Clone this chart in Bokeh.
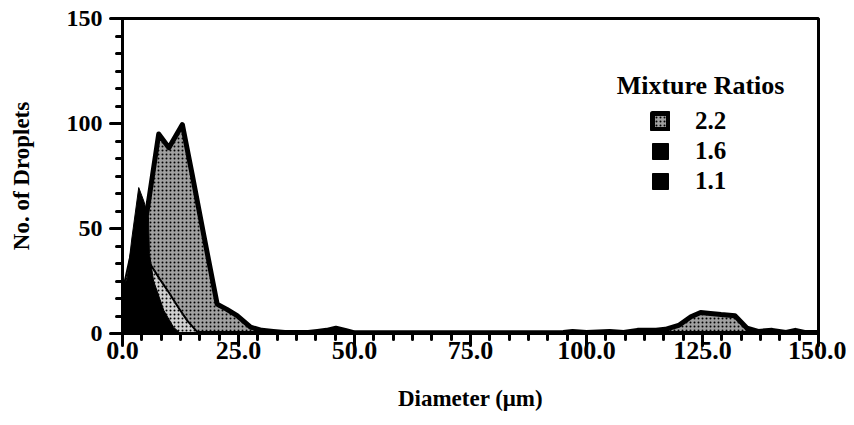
from bokeh.plotting import figure
from bokeh.models import (Range1d, SingleIntervalTicker, PrintfTickFormatter,
                          Legend, LegendItem, Label)
from bokeh.embed import file_html
from bokeh.resources import INLINE

# ---- data ----
# Mixture ratio 2.2 (stippled)
x_22 = [0, 2, 4, 5.7, 7.8, 10, 12.9, 15, 17.5, 20.4, 22.5, 24.7, 27.6, 30, 32.5,
        35, 40, 42, 44, 46, 48, 50, 55, 60, 70, 80, 90, 95, 97, 100, 105, 108,
        111, 115, 117, 120, 122.5, 124.6, 126.7, 129, 132, 134.6, 137, 140, 143,
        145, 147, 150]
y_22 = [3, 15, 40, 64, 95, 88.5, 99.5, 76, 47, 14, 11.5, 8.5, 3, 1.5, 1,
        0.5, 0.5, 1, 1.5, 2.5, 1.5, 0.3, 0.3, 0.3, 0.3, 0.3, 0.3, 0.5, 1, 0.5, 1, 0.5,
        1.5, 1.5, 2, 4, 8, 10, 9.5, 9, 8.5, 2.5, 1, 1.5, 0.5, 1.5, 0.5, 0.5]

# Mixture ratio 1.6
x_16 = [0, 2, 4, 6, 8, 10, 12, 14, 16]
y_16 = [20, 40, 48, 33, 26, 19.5, 12.5, 6, 1]

# Mixture ratio 1.1 (black)
x_11 = [0, 1, 2, 3.5, 4.6, 5.6, 5.8, 6.7, 8.9, 11, 12.5]
y_11 = [22, 26, 45, 69.5, 63, 55, 38, 25, 11, 3, 0]

x_ticks_step = 25
y_ticks_step = 50
legend_labels = ["2.2", "1.6", "1.1"]

SERIF = "Liberation Serif"


def closed(xs, ys):
    return list(xs) + list(xs)[::-1], list(ys) + [0] * len(xs)


p = figure(width=846, height=417, output_backend="svg", toolbar_location=None,
           x_range=Range1d(0, 150), y_range=Range1d(0, 150),
           min_border_left=122, min_border_right=28, min_border_top=18,
           min_border_bottom=84)
p.grid.visible = False
p.outline_line_color = "black"
p.outline_line_width = 3
p.background_fill_color = "white"

px, py = closed(x_22, y_22)
r22 = p.patch(px, py, fill_color="#a0a0a0", hatch_pattern="dot", hatch_color="black",
              hatch_scale=4, hatch_weight=2, line_color="black", line_width=5,
              line_join="round")
px, py = closed(x_16, y_16)
r16 = p.patch(px, py, fill_color="#d0d0d0", hatch_pattern="dot", hatch_color="black",
              hatch_scale=4, hatch_weight=1.6, line_color="black", line_width=2,
              line_join="round")
px, py = closed(x_11, y_11)
r11 = p.patch(px, py, fill_color="black", line_color="black", line_width=1)

for ax, step in ((p.xaxis[0], x_ticks_step), (p.yaxis[0], y_ticks_step)):
    ax.ticker = SingleIntervalTicker(interval=step, num_minor_ticks=6)
    ax.axis_line_width = 3
    ax.major_tick_line_width = 3
    ax.minor_tick_line_width = 3
    ax.major_tick_line_cap = "round"
    ax.minor_tick_line_cap = "round"
    ax.major_tick_in = 0
    ax.minor_tick_in = 0
    ax.major_tick_out = 12
    ax.minor_tick_out = 6
    ax.major_label_text_font = SERIF
    ax.major_label_text_font_style = "bold"
    ax.major_label_text_color = "black"
    ax.axis_label_text_font = SERIF
    ax.axis_label_text_font_style = "bold"
    ax.axis_label_text_font_size = "23px"
    ax.axis_label_text_color = "black"

p.xaxis[0].formatter = PrintfTickFormatter(format="%.1f")
p.xaxis[0].major_label_text_font_size = "26px"
p.xaxis[0].major_label_standoff = -4
p.xaxis[0].axis_label = "Diameter (\u03bcm)"
p.xaxis[0].axis_label_standoff = 24
p.yaxis[0].major_label_text_font_size = "24px"
p.yaxis[0].major_label_standoff = 8
p.yaxis[0].axis_label = "No. of Droplets"
p.yaxis[0].axis_label_standoff = 30

legend = Legend(items=[LegendItem(label=legend_labels[0], renderers=[r22]),
                       LegendItem(label=legend_labels[1], renderers=[r11]),
                       LegendItem(label=legend_labels[2], renderers=[r11])],
                location=(528, 138), glyph_width=20, glyph_height=20,
                label_height=20, spacing=2, padding=0, margin=0,
                border_line_color=None, background_fill_alpha=0,
                label_standoff=25, label_text_font=SERIF,
                label_text_font_style="bold", label_text_font_size="25px",
                label_text_color="black")
p.add_layout(legend)

p.add_layout(Label(x=106.5, y=118, text="Mixture Ratios", text_font=SERIF,
                   text_font_style="bold", text_font_size="26px",
                   text_color="black", text_baseline="middle", text_align="left"))

open("out.html", "w").write(file_html(p, INLINE))
